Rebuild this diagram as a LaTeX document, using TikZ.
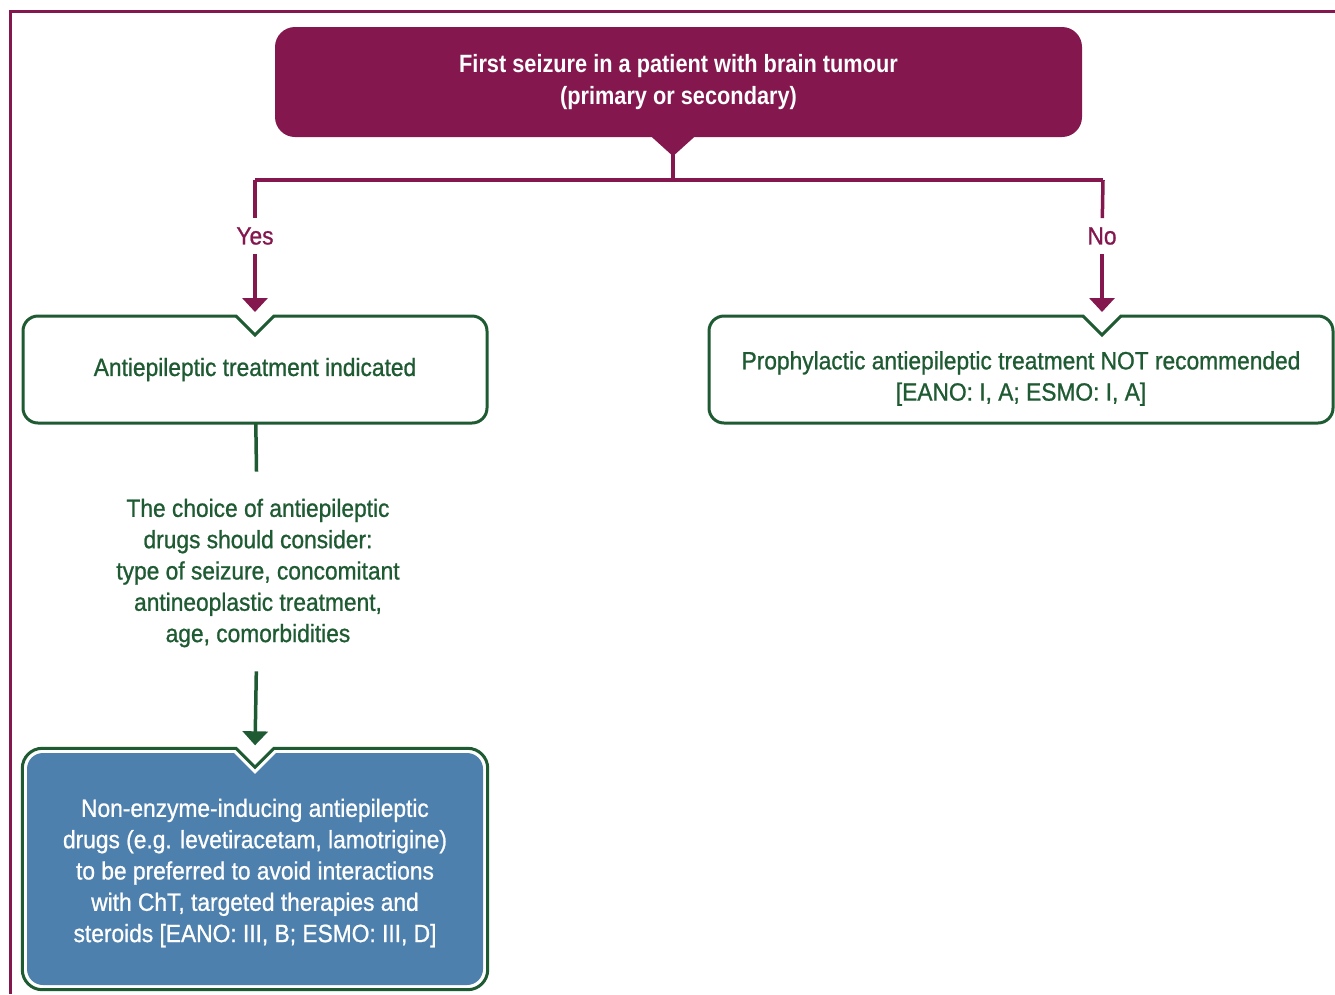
\documentclass[tikz,border=0pt]{standalone}
\usepackage{fontspec}
\setmainfont{Liberation Sans}[FakeStretch=0.91, FakeBold=0.9,
  BoldFeatures={FakeStretch=0.87, FakeBold=0}]
\usetikzlibrary{arrows.meta}
\definecolor{plum}{HTML}{84184E}
\definecolor{pine}{HTML}{1E5A32}
\definecolor{steel}{HTML}{4D80AD}
% V-shaped dent in the top border of a box
\newcommand\dent[2]{%
  \draw[white, line width=5pt] ([xshift=-18pt]#1) -- ([xshift=18pt]#1);
  \draw[#2, line width=3pt, line join=miter] ([xshift=-19pt]#1) -- ([yshift=-19pt]#1) -- ([xshift=19pt]#1);}
\newcommand\low[2]{\raisebox{-#1}[\height][\depth]{#2}}
\begin{document}
\begin{tikzpicture}[x=1pt, y=-1pt,
    every node/.style={align=center, font=\fontsize{25}{31.3}\selectfont},
    greenbox/.style={draw=pine, line width=3pt, fill=white, rounded corners=15pt,
      text=pine, minimum height=107pt, outer sep=0pt},
    plumline/.style={plum, line width=3.5pt},
    greenline/.style={pine, line width=3.5pt},
    tip/.style={-{Triangle[width=25pt, length=14pt]}}]
  \useasboundingbox (0,0) rectangle (1335,994);
  \draw[plum, line width=3pt] (10.5,994) -- (10.5,11.5) -- (1335,11.5);

  \node[fill=plum, rounded corners=20pt, minimum width=807pt, minimum height=110pt,
    text=white, font=\fontsize{25}{31.3}\selectfont\bfseries] (a) at (678.5,82)
    {First seizure in a patient with brain tumour\\(primary or secondary)};
  \node[greenbox, minimum width=464pt] (b) at (255,369.5) {Antiepileptic treatment indicated};
  \node[greenbox, minimum width=624pt] (c) at (1021,369.5)
    {\low{9pt}{Prophylactic antiepileptic treatment NOT recommended}\\\low{9pt}{[EANO: I, A; ESMO: I, A]}};
  \node[text=plum, inner sep=9pt] (yes) at (255,236) {Yes};
  \node[text=plum, inner sep=9pt] (no) at (1102,236) {No};
  \node[text=pine, inner sep=24pt] (d) at (258,573)
    {The choice of antiepileptic\\drugs should consider:\\type of seizure, concomitant\\antineoplastic treatment,\\age, comorbidities};
  \node[fill=steel, rounded corners=16pt, minimum width=456pt, minimum height=232pt,
    text=white] (e) at (255,869)
    {\low{4pt}{Non-enzyme-inducing antiepileptic}\\\low{4pt}{drugs (e.g. levetiracetam, lamotrigine)}\\
     \low{4pt}{to be preferred to avoid interactions}\\\low{4pt}{with ChT, targeted therapies and}\\
     \low{4pt}{steroids [EANO: III, B; ESMO: III, D]}};
  \draw[pine, line width=3pt, rounded corners=20pt]
    ([shift={(-4.5pt,4.5pt)}]e.north west) rectangle ([shift={(4.5pt,-4.5pt)}]e.south east);

  \coordinate (split) at (673,180);
  \coordinate (yturn) at (255,180);
  \coordinate (nturn) at (1103,180);
  \coordinate (bt) at (b.north);
  \coordinate (ct) at (no |- c.north);
  \coordinate (et) at ([yshift=4.5pt]e.north);

  % tree below the top box
  \fill[plum] ([xshift=-21pt]split |- a.south) -- ([xshift=21pt]split |- a.south)
    -- ([yshift=-19pt]split |- a.south) -- cycle;
  \draw[plumline] (split |- a.south) -- (split);
  \draw[plumline] (yturn) -- (nturn);
  \draw[plumline] (yturn) -- (yes);
  \draw[plumline] (nturn) -- (no);

  \dent{bt}{pine}
  \dent{ct}{pine}
  \fill[white] ([shift={(-22pt,1pt)}]e.north) -- ([shift={(22pt,1pt)}]e.north) -- ([yshift=-21pt]e.north) -- cycle;
  \dent{et}{pine}

  \draw[plumline, tip, shorten >=4pt] (yes) -- (bt);
  \draw[plumline, tip, shorten >=4pt] (no) -- (ct);
  \draw[greenline, shorten >=3pt] (b) -- (d);
  \draw[greenline, tip, shorten >=3pt] (d) -- (et);
\end{tikzpicture}
\end{document}
